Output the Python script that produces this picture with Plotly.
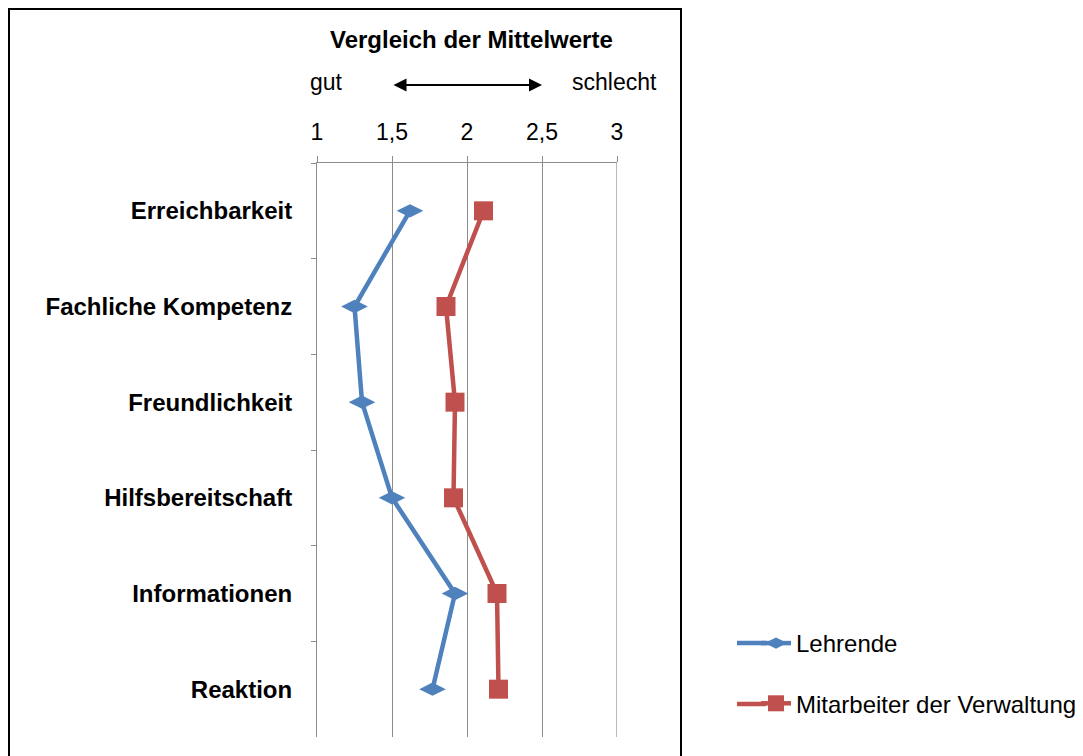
import plotly.graph_objects as go

categories = ["Erreichbarkeit", "Fachliche Kompetenz", "Freundlichkeit",
              "Hilfsbereitschaft", "Informationen", "Reaktion"]
lehrende = [1.62, 1.25, 1.30, 1.50, 1.92, 1.77]
verwaltung = [2.11, 1.86, 1.92, 1.91, 2.20, 2.21]
x_ticks = [1, 1.5, 2, 2.5, 3]
x_tick_labels = ["1", "1,5", "2", "2,5", "3"]

BLUE = "#4F81BD"
RED = "#C0504D"
GRID = "#8C8C8C"
FONT = "Liberation Sans, Arial, sans-serif"

OFF = 8  # page body margin
W, H = 1075, 748
# target positions in screenshot pixels
L, R, T, B = 317, 617, 163, 737
pw, ph = R - L, B - T


def px_x(p):
    return (p - L) / pw


def px_y(p):
    return (B - p) / ph


fig = go.Figure()
fig.add_trace(go.Scatter(
    x=lehrende, y=categories, mode="lines+markers", name="Lehrende",
    legendgroup="a",
    line=dict(color=BLUE, width=4.5),
    marker=dict(symbol="diamond-wide", size=19, color=BLUE),
))
fig.add_trace(go.Scatter(
    x=verwaltung, y=categories, mode="lines+markers", name="Mitarbeiter der Verwaltung",
    legendgroup="b",
    line=dict(color=RED, width=4.5),
    marker=dict(symbol="square", size=19, color=RED),
))

shapes = [
    dict(type="rect", xref="paper", yref="paper",
         x0=px_x(9), x1=px_x(681), y0=px_y(770), y1=px_y(9),
         line=dict(color="black", width=2), fillcolor="rgba(0,0,0,0)",
         layer="below"),
    # gridline at the right edge of the value axis
    dict(type="line", xref="x", yref="paper", x0=x_ticks[-1], x1=x_ticks[-1],
         y0=0, y1=1, line=dict(color=GRID, width=1.2), layer="below"),
    # extend the legend line symbols to the left like the reference
    dict(type="line", xref="paper", yref="paper", x0=px_x(737), x1=px_x(766),
         y0=px_y(643), y1=px_y(643), line=dict(color=BLUE, width=4.5)),
    dict(type="line", xref="paper", yref="paper", x0=px_x(737), x1=px_x(766),
         y0=px_y(704), y1=px_y(704), line=dict(color=RED, width=4.5)),
]

fig.update_layout(
    width=W, height=H,
    margin=dict(l=L - OFF, r=W - (R - OFF), t=T - OFF, b=H - (B - OFF), autoexpand=False),
    paper_bgcolor="white", plot_bgcolor="white",
    font=dict(family=FONT, size=23, color="black"),
    showlegend=True,
    legend=dict(
        xref="container", yref="container",
        x=(796 - OFF - 40) / W, y=1 - (613) / H, xanchor="left", yanchor="top",
        font=dict(size=24, color="black"),
        traceorder="grouped", tracegroupgap=26,
        bgcolor="rgba(0,0,0,0)",
    ),
    xaxis=dict(
        side="top", range=[1, 3], tickvals=x_ticks, ticktext=x_tick_labels,
        showgrid=True, gridcolor=GRID, gridwidth=1,
        showline=True, linecolor=GRID, linewidth=1,
        ticks="outside", ticklen=6, tickcolor=GRID,
        ticklabelstandoff=7,
        tickfont=dict(size=23, color="black"),
        zeroline=False, fixedrange=True,
    ),
    yaxis=dict(
        type="category", categoryorder="array", categoryarray=categories,
        range=[len(categories) - 0.5, -0.5],
        showgrid=False, showline=True, linecolor=GRID, linewidth=1,
        ticks="outside", ticklen=5, tickcolor=GRID, tickson="boundaries",
        ticklabelstandoff=19,
        tickfont=dict(size=24, color="black", weight="bold"),
        zeroline=False, fixedrange=True,
    ),
    annotations=[
        dict(text="<b>Vergleich der Mittelwerte</b>", xref="paper", yref="paper",
             x=px_x(471), y=px_y(39), xanchor="center", yanchor="middle",
             showarrow=False, font=dict(size=24)),
        dict(text="gut", xref="paper", yref="paper",
             x=px_x(326), y=px_y(82), xanchor="center", yanchor="middle",
             showarrow=False, font=dict(size=23)),
        dict(text="schlecht", xref="paper", yref="paper",
             x=px_x(614), y=px_y(82), xanchor="center", yanchor="middle",
             showarrow=False, font=dict(size=23)),
        dict(text="", x=2.5, y=px_y(85), xref="x", yref="paper",
             ax=1.5, ay=0, axref="x", ayref="pixel",
             showarrow=True, arrowhead=2, startarrowhead=2, arrowside="end+start",
             arrowsize=1.3, startarrowsize=1.3, arrowwidth=2, arrowcolor="black"),
    ],
    shapes=shapes,
)

fig.write_html("out.html")
